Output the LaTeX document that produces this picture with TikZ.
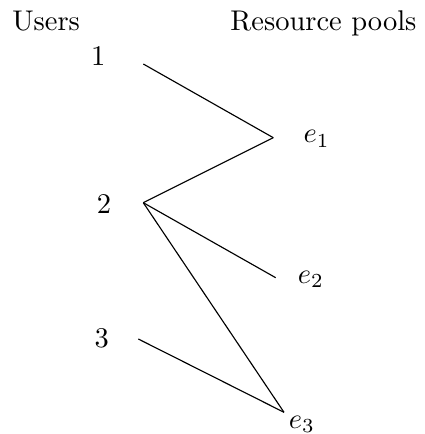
\documentclass[tikz,border=0pt]{standalone}
\begin{document}
\begin{tikzpicture}[x=0.35088pt,y=-0.35088pt,
  lbl/.style={inner sep=0pt, anchor=base},
  lblw/.style={inner sep=0pt, anchor=base west},
  link/.style={line width=0.4pt, black}]
\useasboundingbox (0,0) rectangle (424,434);
\node[lblw] (users) at (11.7,30.7) {Users};
\node[inner sep=0pt, anchor=base east] (pools) at (417,30.7) {Resource pools};
\node[lbl] (n1) at (98.3,66) {1};
\node[lbl] (n2) at (104,213) {2};
\node[lbl] (n3) at (101.7,347.3) {3};
\node[lblw] (le1) at (303,143) {$e_1$};
\node[lblw] (le2) at (297.3,283) {$e_2$};
\node[lblw] (le3) at (288.3,428) {$e_3$};
\coordinate (u1) at (143.3,64);
\coordinate (u2) at (143.3,202.7);
\coordinate (u3) at (138.3,339);
\coordinate (p1) at (273.3,137.7);
\coordinate (p2) at (275.7,277.7);
\coordinate (p3) at (284,412.3);
\draw[link] (u1) -- (p1);
\draw[link] (u2) -- (p1);
\draw[link] (u2) -- (p2);
\draw[link] (u2) -- (p3);
\draw[link] (u3) -- (p3);
\end{tikzpicture}
\end{document}
